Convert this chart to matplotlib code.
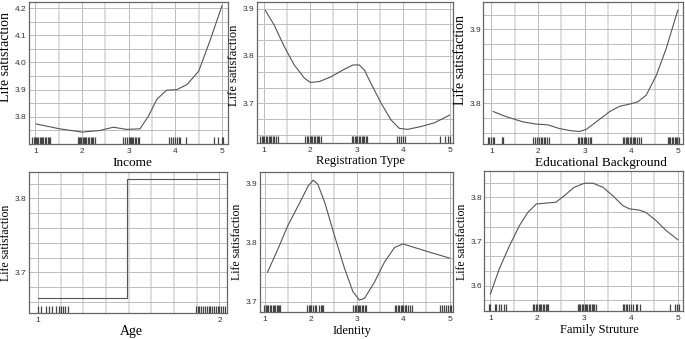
import numpy as np
import matplotlib
matplotlib.use('Agg')
import matplotlib.pyplot as plt
import matplotlib.transforms as mtransforms

# curves
income_x = [1.01, 1.52, 2.0, 2.38, 2.67, 2.95, 3.24, 3.42, 3.60, 3.81, 4.03, 4.25, 4.50, 4.75, 5.0]
income_y = [3.774, 3.756, 3.744, 3.750, 3.762, 3.754, 3.756, 3.802, 3.864, 3.898, 3.900, 3.919, 3.968, 4.084, 4.209]

reg_x = [1.04, 1.23, 1.45, 1.66, 1.88, 2.01, 2.20, 2.45, 2.70, 2.92, 3.06, 3.17, 3.31, 3.53, 3.74, 3.92, 4.10, 4.39, 4.68, 5.0]
reg_y = [3.896, 3.865, 3.819, 3.781, 3.753, 3.744, 3.746, 3.756, 3.770, 3.781, 3.781, 3.770, 3.742, 3.700, 3.665, 3.647, 3.645, 3.651, 3.659, 3.675]

edu_x = [1.04, 1.32, 1.68, 1.96, 2.21, 2.46, 2.71, 2.89, 3.04, 3.25, 3.54, 3.75, 3.96, 4.14, 4.32, 4.54, 4.75, 5.0]
edu_y = [3.789, 3.782, 3.775, 3.772, 3.771, 3.766, 3.763, 3.762, 3.765, 3.775, 3.789, 3.796, 3.799, 3.802, 3.811, 3.838, 3.874, 3.926]

age_x = [1.0, 1.49, 1.49, 2.0]
age_y = [3.665, 3.665, 3.827, 3.827]

ident_x = [1.06, 1.29, 1.50, 1.76, 1.94, 2.05, 2.15, 2.30, 2.51, 2.73, 2.91, 3.05, 3.16, 3.38, 3.59, 3.81, 3.99, 4.24, 4.53, 5.0]
ident_y = [3.750, 3.790, 3.829, 3.868, 3.896, 3.906, 3.899, 3.868, 3.812, 3.756, 3.717, 3.703, 3.706, 3.734, 3.767, 3.792, 3.798, 3.792, 3.785, 3.774]

fam_x = [1.0, 1.19, 1.41, 1.62, 1.80, 1.98, 2.19, 2.40, 2.58, 2.79, 3.01, 3.19, 3.40, 3.61, 3.83, 3.97, 4.18, 4.32, 4.54, 4.75, 5.0]
fam_y = [3.581, 3.638, 3.691, 3.736, 3.766, 3.785, 3.787, 3.789, 3.804, 3.823, 3.832, 3.832, 3.823, 3.804, 3.781, 3.774, 3.771, 3.766, 3.747, 3.725, 3.704]

# rug marks (observed, jittered)
income_rug = [0.93, 0.96, 0.99, 1.01, 1.04, 1.06, 1.09, 1.12, 1.15, 1.17, 1.20, 1.23, 1.26, 1.29, 1.31,
              1.91, 1.93, 1.96, 1.98, 2.01, 2.04, 2.07, 2.09, 2.12, 2.15, 2.18, 2.21, 2.24, 2.27,
              2.88, 2.92, 2.96, 3.00, 3.02, 3.05, 3.08, 3.10, 3.13, 3.16, 3.19, 3.22,
              3.86, 3.90, 3.94, 3.99, 4.03, 4.07, 4.10, 4.23,
              4.83, 4.92, 4.99, 5.02]
reg_rug = [0.93, 0.96, 0.99, 1.02, 1.05, 1.08, 1.11, 1.14, 1.17, 1.20, 1.23, 1.26, 1.30,
           1.90, 1.93, 1.96, 1.99, 2.02, 2.05, 2.08, 2.11, 2.14, 2.17, 2.20, 2.24,
           2.90, 2.93, 2.96, 2.99, 3.02, 3.05, 3.08, 3.11, 3.14, 3.17, 3.20, 3.23,
           3.88, 3.92, 3.96, 4.00, 4.05,
           4.80, 4.91, 4.96, 5.01]
edu_rug = [0.93, 0.96, 1.00, 1.03, 1.06, 1.23, 1.25,
           1.90, 1.94, 1.98, 2.02, 2.06, 2.09, 2.12, 2.16, 2.20, 2.24,
           2.86, 2.89, 2.92, 2.95, 2.98, 3.01, 3.04, 3.07, 3.11, 3.14,
           3.82, 3.85, 3.88, 3.91, 3.94, 3.97, 4.00, 4.03, 4.06, 4.09, 4.12, 4.16, 4.20,
           4.78, 4.81, 4.84, 4.87, 4.90, 4.93, 4.96, 4.99, 5.02]
age_rug = [1.00, 1.02, 1.045, 1.06, 1.08, 1.10, 1.115, 1.13, 1.14, 1.15, 1.165,
           1.87, 1.88, 1.89, 1.90, 1.91, 1.92, 1.93, 1.94, 1.95, 1.96, 1.97, 1.98, 1.99, 2.00, 2.01, 2.02, 2.03]
ident_rug = [0.99, 1.02, 1.05, 1.08, 1.11, 1.14, 1.17, 1.20, 1.23, 1.26, 1.29, 1.32, 1.34,
             1.92, 1.95, 1.98, 2.01, 2.05, 2.08, 2.11, 2.17, 2.21, 2.24, 2.27,
             2.92, 2.95, 2.98, 3.01, 3.04, 3.07, 3.10, 3.13, 3.17, 3.20,
             3.82, 3.85, 3.88, 3.91, 3.94, 3.97, 4.00, 4.03, 4.06, 4.10, 4.14, 4.18,
             4.80, 4.84, 4.88, 4.92, 4.96, 5.00, 5.03]
fam_rug = [0.98, 1.00, 1.10, 1.13, 1.19, 1.22, 1.30, 1.33,
           1.91, 1.94, 1.97, 2.00, 2.03, 2.06, 2.09, 2.12, 2.15, 2.18, 2.21, 2.24,
           2.86, 2.89, 2.92, 2.95, 2.98, 3.01, 3.04, 3.07, 3.10, 3.13, 3.16, 3.19, 3.22, 3.25,
           3.83, 3.86, 3.89, 3.92, 3.95, 4.00, 4.04, 4.10, 4.14, 4.20,
           4.83, 4.95, 4.99, 5.02]

panels = [
    # xlabel, x, y, rug, ylim, yticks, ystep, xlim, xticks, xgrid
    ("Income", income_x, income_y, income_rug, (3.70, 4.222), [3.8, 3.9, 4.0, 4.1, 4.2], 0.05,
     (0.856, 5.13), [1, 2, 3, 4, 5], 0.5),
    ("Registration Type", reg_x, reg_y, reg_rug, (3.616, 3.914), [3.7, 3.8, 3.9], 0.1 / 3,
     (0.856, 5.07), [1, 2, 3, 4, 5], 0.5),
    ("Educational Background", edu_x, edu_y, edu_rug, (3.745, 3.937), [3.8, 3.9], 0.02,
     (0.82, 5.11), [1, 2, 3, 4, 5], 0.5),
    ("Age", age_x, age_y, age_rug, (3.645, 3.836), [3.7, 3.8], 0.02,
     (0.95, 2.04), [1, 2], 0.125),
    ("Identity", ident_x, ident_y, ident_rug, (3.683, 3.920), [3.7, 3.8, 3.9], 0.025,
     (0.89, 5.07), [1, 2, 3, 4, 5], 0.5),
    ("Family Struture", fam_x, fam_y, fam_rug, (3.543, 3.860), [3.6, 3.7, 3.8], 0.1 / 3,
     (0.87, 5.11), [1, 2, 3, 4, 5], 0.5),
]

rects = [
    [0.042, 0.575, 0.291, 0.419],
    [0.375, 0.578, 0.286, 0.416],
    [0.705, 0.575, 0.292, 0.419],
    [0.042, 0.077, 0.289, 0.416],
    [0.379, 0.080, 0.282, 0.413],
    [0.707, 0.083, 0.290, 0.413],
]
# label placement (axes fraction) and sizes
ylab_pos = [(-0.115, 0.61), (-0.117, 0.55), (-0.113, 0.59), (-0.115, 0.50), (-0.117, 0.50), (-0.113, 0.49)]
ylab_size = [10, 9, 10, 8.5, 8.5, 8.5]
xlab_pos = [(0.52, -0.13), (0.53, -0.13), (0.59, -0.13), (0.52, -0.135), (0.48, -0.135), (0.58, -0.135)]
xlab_size = [9.5, 9, 9.5, 10, 9, 9]

fig = plt.figure(figsize=(6.85, 3.39), dpi=100)
serif = ['Liberation Serif', 'DejaVu Serif']
line_c = '#555555'

for i, ((xlabel, xs, ys, rug, ylim, yticks, ystep, xlim, xticks, xgrid), r) in enumerate(zip(panels, rects)):
    ax = fig.add_axes(r)
    ax.set_xlim(*xlim)
    ax.set_ylim(*ylim)

    # grid: minor light/thick, major thin/darker
    gx = np.arange(xticks[0], xticks[-1] + 1e-9, xgrid)
    for v in gx:
        if abs(v - round(v)) < 1e-6:
            ax.axvline(v, color='#b0b0b0', lw=0.6, zorder=0)
        else:
            ax.axvline(v, color='#dedede', lw=1.4, zorder=0)
    k0 = int(np.ceil((ylim[0] - yticks[0]) / ystep))
    k1 = int(np.floor((ylim[1] - yticks[0]) / ystep))
    for k in range(k0, k1 + 1):
        ax.axhline(yticks[0] + k * ystep, color='#bdbdbd', lw=0.7, zorder=0)

    ax.plot(xs, ys, color=line_c, lw=0.8, zorder=3)

    trans = mtransforms.blended_transform_factory(ax.transData, ax.transAxes)
    ax.vlines(rug, 0, 0.05, transform=trans, color='#444444', lw=0.9, zorder=2)

    ax.set_xticks(xticks)
    ax.set_yticks(yticks)
    ax.set_xticklabels([str(t) for t in xticks], family='Liberation Sans')
    ax.set_yticklabels([f"{t:.1f}" for t in yticks], family='Liberation Sans')
    ax.tick_params(length=0, labelsize=6, colors='#333333', pad=1.5)
    ax.tick_params(axis='x', pad=3)
    ax.set_xlabel(xlabel, family=serif, fontsize=xlab_size[i])
    ax.set_ylabel("Life satisfaction", family=serif, fontsize=ylab_size[i])
    ax.xaxis.set_label_coords(*xlab_pos[i])
    ax.yaxis.set_label_coords(*ylab_pos[i])
    ax.xaxis.label.set_verticalalignment('center')
    ax.yaxis.label.set_verticalalignment('center')
    for s in ax.spines.values():
        s.set_color('#666666')
        s.set_linewidth(0.9)

fig.savefig('out.png', dpi=100)
